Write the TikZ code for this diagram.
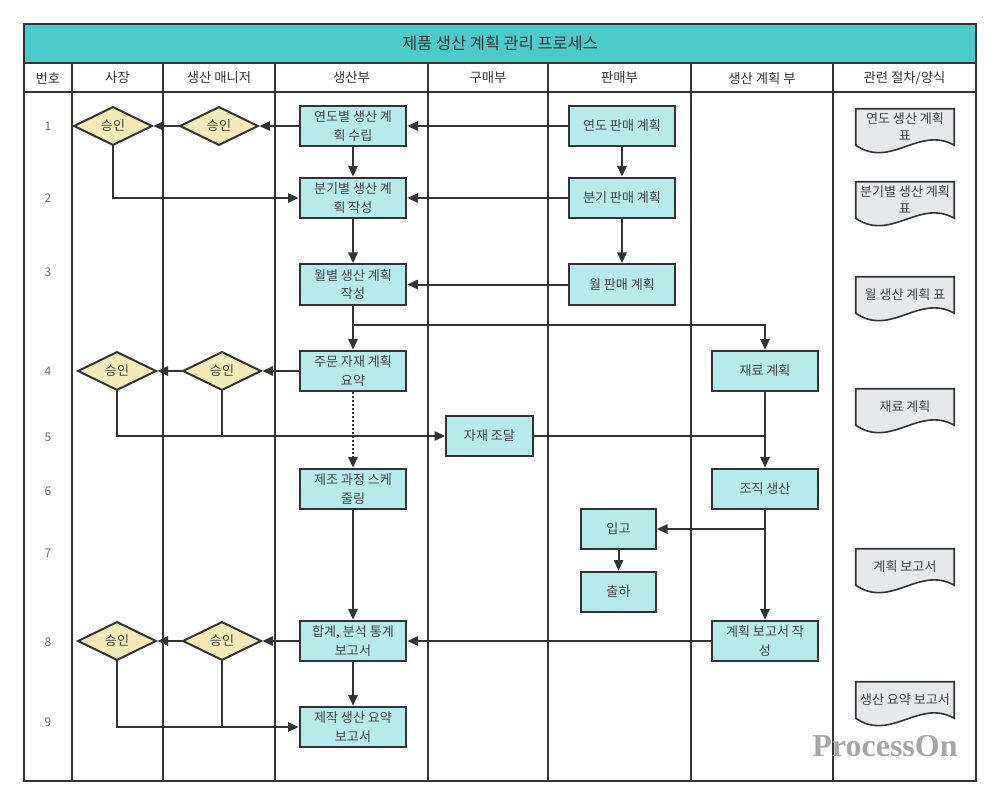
\documentclass[tikz,border=0pt]{standalone}
\usepackage{fontspec}
\setmainfont{Noto Sans CJK KR}
\newfontfamily\markfont{Liberation Serif}
\usetikzlibrary{shapes.geometric,arrows.meta,calc,backgrounds}

\definecolor{lineGray}{HTML}{333333}
\definecolor{textGray}{HTML}{444444}
\definecolor{titleTeal}{HTML}{4DCBCB}
\definecolor{boxCyan}{HTML}{B7EAEA}
\definecolor{diaYellow}{HTML}{F4EAB8}
\definecolor{docGray}{HTML}{E6E8EB}

\begin{document}
\begin{tikzpicture}
[x=0.75pt,y=-0.75pt,
  gridDecorate/.style={draw=lineGray,line width=1.5pt},
  lineDecorate/.style={draw=lineGray,line width=1.5pt},
  arrowDecorate/.style={lineDecorate,-{Triangle[length=8pt,width=7pt]}},
  headDecorate/.style={text=lineGray,font=\fontsize{10pt}{12pt}\selectfont},
  numDecorate/.style={text=textGray!80,font=\fontsize{9pt}{12pt}\selectfont},
  boxDecorate/.style={shape=rectangle,draw=lineGray,line width=1.5pt,fill=boxCyan,
    minimum width=80pt,minimum height=30.5pt,inner sep=1pt,align=center,
    text=textGray,font=\fontsize{9.8pt}{14pt}\selectfont},
  diaDecorate/.style={shape=diamond,draw=lineGray,line width=1.5pt,fill=diaYellow,
    minimum width=59pt,minimum height=29pt,inner sep=0pt,
    text=textGray,font=\fontsize{9.8pt}{12pt}\selectfont},
  docDecorate/.style={shape=rectangle,minimum width=73.5pt,minimum height=27pt,
    inner sep=0pt,align=center,text=textGray,font=\fontsize{9.8pt}{12.8pt}\selectfont},
  docShape/.style={draw=lineGray,line width=1.2pt,fill=docGray}]
\useasboundingbox (0,0) rectangle (1000,806);
%% frame, title and lanes
\filldraw[gridDecorate,fill=titleTeal] (24,24) rectangle (976,63);
\node (title) at (500,43.5) [text=lineGray,font=\fontsize{12.3pt}{14pt}\selectfont] {제품 생산 계획 관리 프로세스};
\draw[gridDecorate] (24,24) rectangle (976,781);
\draw[gridDecorate] (24,92) -- (976,92);
\foreach \x in {72,163,275,428,548,691,833}
  \draw[gridDecorate] (\x,63) -- (\x,781);
\foreach \nodename/\x/\label in {
  hNum/48/번호, hCeo/117.5/사장, hMgr/219/생산 매니저, hProd/351.5/생산부,
  hBuy/488/구매부, hSales/619.5/판매부, hPlan/762/생산 계획 부, hDoc/904.5/{관련 절차/양식}}
{
  \node (\nodename) at (\x,78) [headDecorate] {\label};
}
\foreach \n/\y in {1/126, 2/198, 3/272, 4/371, 5/437, 6/491, 7/553, 8/642, 9/722}
  \node (row\n) at (48,\y) [numDecorate] {\n};
%% process boxes
\foreach \nodename/\x/\y/\label in {
  prodA/353/126/{연도별 생산 계\\획 수립}, prodB/353/198/{분기별 생산 계\\획 작성},
  prodC/353/284.5/{월별 생산 계획\\작성}, prodD/353/371/{주문 자재 계획\\요약},
  prodE/353/489/{제조 과정 스케\\줄링}, prodF/353/641/{합계, 분석 통계\\보고서},
  prodG/353/727/{제작 생산 요약\\보고서},
  salesA/622/126/{연도 판매 계획}, salesB/622/198/{분기 판매 계획},
  salesC/622/284.5/{월 판매 계획},
  planA/765/371/{재료 계획}, planB/765/489/{조직 생산}, planC/765/641/{계획 보고서 작\\성}}
{
  \node (\nodename) at (\x,\y) [boxDecorate] {\label};
}
\node (buyA) at (489.5,436) [boxDecorate,minimum width=65pt] {자재 조달};
\node (salesD) at (618.5,529) [boxDecorate,minimum width=56pt] {입고};
\node (salesE) at (618.5,592) [boxDecorate,minimum width=56pt] {출하};
%% approvals
\foreach \nodename/\x/\y in {
  ceoA/113/126, mgrA/219/126, ceoB/117/371, mgrB/222/371, ceoC/117/641, mgrC/222/641}
{
  \node (\nodename) at (\x,\y) [diaDecorate] {승인};
}
%% forms
\foreach \nodename/\y/\label in {
  docA/127/{연도 생산 계획\\표}, docB/200/{분기별 생산 계획\\표}, docC/295/{월 생산 계획 표},
  docD/407/{재료 계획}, docE/567/{계획 보고서}, docF/700/{생산 요약 보고서}}
{
  \node (\nodename) at (905,\y) [docDecorate] {\label};
}
\begin{scope}[on background layer]
\foreach \nodename in {docA,docB,docC,docD,docE,docF}
  \filldraw[docShape] (\nodename.north west) -- (\nodename.south west)
    .. controls ($(\nodename.south west)+(35,24)$) and ($(\nodename.south east)+(-35,-20)$)
    .. (\nodename.south east) -- (\nodename.north east) -- cycle;
\end{scope}
%% connectors
\coordinate (forkA) at (353,325);
\coordinate (forkB) at (planB.south |- salesD);
\draw[arrowDecorate] (salesA) -- (prodA);
\draw[arrowDecorate] (prodA) -- (mgrA);
\draw[arrowDecorate] (mgrA) -- (ceoA);
\draw[arrowDecorate] (ceoA) |- (prodB);
\draw[arrowDecorate] (prodA) -- (prodB);
\draw[arrowDecorate] (salesA) -- (salesB);
\draw[arrowDecorate] (salesB) -- (prodB);
\draw[arrowDecorate] (prodB) -- (prodC);
\draw[arrowDecorate] (salesB) -- (salesC);
\draw[arrowDecorate] (salesC) -- (prodC);
\draw[arrowDecorate] (prodC) -- (prodD);
\draw[arrowDecorate] (forkA) -| (planA);
\draw[arrowDecorate] (prodD) -- (mgrB);
\draw[arrowDecorate] (mgrB) -- (ceoB);
\draw[arrowDecorate] (ceoB) |- (buyA);
\draw[lineDecorate] (mgrB) -- (mgrB |- buyA);
\draw[arrowDecorate,dash pattern=on 1.5pt off 1.5pt] (prodD) -- (prodE);
\draw[lineDecorate] (buyA) -- (buyA -| planA);
\draw[arrowDecorate] (planA) -- (planB);
\draw[arrowDecorate] (planB) -- (planC);
\draw[arrowDecorate] (forkB) -- (salesD);
\draw[arrowDecorate] (salesD) -- (salesE);
\draw[arrowDecorate] (prodE) -- (prodF);
\draw[arrowDecorate] (planC) -- (prodF);
\draw[arrowDecorate] (prodF) -- (mgrC);
\draw[arrowDecorate] (mgrC) -- (ceoC);
\draw[arrowDecorate] (ceoC) |- (prodG);
\draw[lineDecorate] (mgrC) -- (mgrC |- prodG);
\draw[arrowDecorate] (prodF) -- (prodG);
%% watermark
\node (mark) at (885,746) [text=black!35,font=\markfont\bfseries\fontsize{24pt}{24pt}\selectfont] {ProcessOn};
\end{tikzpicture}
\end{document}
